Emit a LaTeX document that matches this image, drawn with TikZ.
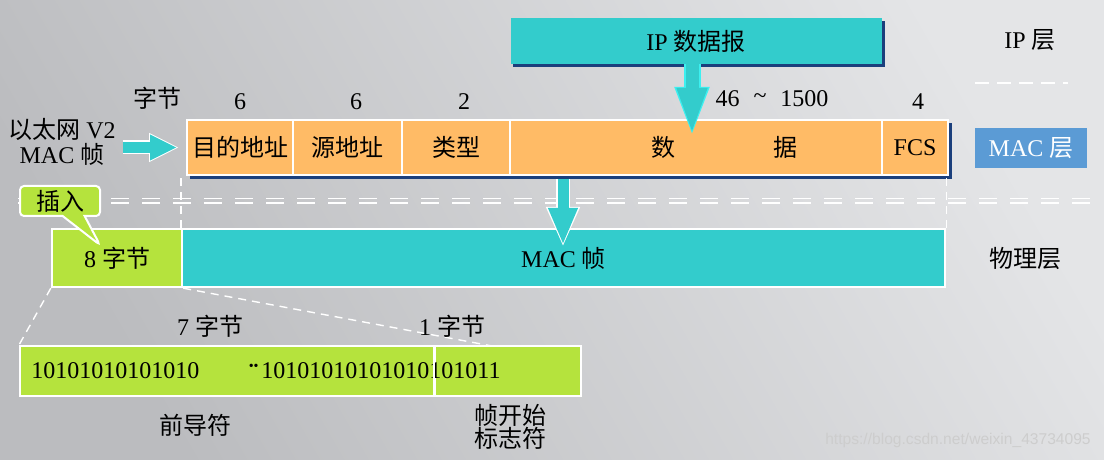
\documentclass[tikz,border=0pt]{standalone}
\usepackage{fontspec}
\setmainfont{Liberation Serif}
\newfontfamily\zhfont{Noto Sans CJK SC}
\newfontfamily\wmfont{Liberation Sans}
\newcommand{\zh}[1]{{\zhfont #1}}
\usetikzlibrary{arrows.meta,calc,shapes.callouts}
\definecolor{cyanbox}{HTML}{33CCCC}
\definecolor{cyanglow}{HTML}{3CF0F0}
\definecolor{orangebox}{HTML}{FFBB66}
\definecolor{limebox}{HTML}{B5E33D}
\definecolor{layerblue}{HTML}{5B9BD5}
\definecolor{navyshadow}{HTML}{1B3F7C}
\definecolor{bglight}{HTML}{E4E5E7}
\definecolor{bgdark}{HTML}{BBBCBF}
\definecolor{watermark}{HTML}{CDCDCD}

\begin{document}
\begin{tikzpicture}[x=0.5pt, y=-0.5pt, every node/.style={font=\fontsize{12}{14}\selectfont},
	field/.style={draw=white, line width=1pt, inner sep=0pt, minimum height=27.5pt, fill=orangebox},
	physfield/.style={draw=white, line width=1.2pt, inner sep=0pt},
	guide/.style={draw=white, line width=0.7pt, dash pattern=on 4pt off 3pt},
	layerline/.style={draw=white, line width=0.7pt, dash pattern=on 9pt off 6.5pt}]
	\useasboundingbox (0,0) rectangle (1104,460);
	\shade[top color=bglight, bottom color=bgdark, shading angle=-60] (0,0) rectangle (1104,460);

	\fill[navyshadow] (513,21) rectangle (885,67);
	\node[fill=cyanbox, inner sep=0pt, minimum width=185.5pt, minimum height=23pt] (ip) at (696,41) {IP \zh{数据报}};
	\node (iplayer) at (1030,40) {IP \zh{层}};
	\draw[draw=white, line width=0.8pt, dash pattern=on 7pt off 4pt] (975,83) -- (1068,83);

	\node (bytes) at (157,98) {\zh{字节}};
	\node (ndst) at (240,102) {6};
	\node (nsrc) at (356,102) {6};
	\node (ntype) at (464,102) {2};
	\node (ndata) at (772,99) {46\hspace{7pt}\raisebox{0.35ex}{\textasciitilde}\hspace{7pt}1500};
	\node (nfcs) at (918,102) {4};

	\fill[navyshadow] (190,123) rectangle (952,179);
	\node[field, minimum width=53pt] (dst) at (240,147.5) {\zh{目的地址}};
	\node[field, minimum width=54.5pt] (src) at (347.5,147.5) {\zh{源地址}};
	\node[field, minimum width=54pt] (type) at (456,147.5) {\zh{类型}};
	\node[field, minimum width=186pt] (data) at (696,147.5) {};
	\node[field, minimum width=33pt] (fcs) at (915,147.5) {FCS};
	\node (datatxt) at (724,147.5) {\zh{数}\hspace{49pt}\zh{据}};
	\node[fill=layerblue, text=white, inner sep=0pt, minimum width=56pt, minimum height=20pt] (maclayer) at (1031,148) {MAC \zh{层}};
	\node[align=center, font=\fontsize{12}{11}\selectfont] (ethlbl) at (62,142) {\zh{以太网} V2\\MAC \zh{帧}};

	\draw[layerline] (18,198.5) -- (1100,198.5);
	\draw[layerline] (18,203) -- (1100,203);

	\node[physfield, fill=limebox, minimum width=65pt, minimum height=29pt] (syncfield) at (117,258) {8 \zh{字节}};
	\node[physfield, fill=cyanbox, minimum width=381.5pt, minimum height=29pt] (macframe) at (563.5,258) {MAC \zh{帧}};
	\node (phylayer) at (1025,258) {\zh{物理层}};
	\draw[guide] (macframe.north west) -- (macframe.north west |- dst.south);
	\draw[guide] (macframe.north east) -- (macframe.north east |- fcs.south);

	\node[rectangle callout, fill=limebox, draw=white, line width=1pt, rounded corners=2pt, inner sep=0pt, minimum width=40pt, minimum height=15pt, callout absolute pointer={(100,245)}, callout pointer width=11pt] (insert) at (60,201) {\zh{插入}};

	\draw[white, line width=7pt, -{Triangle[length=15pt, width=13.5pt]}, shorten >=3.5pt] (ethlbl.east |- dst) -- (dst.west);
	\draw[cyanbox, line width=5.5pt, -{Triangle[length=13.5pt, width=12pt]}, shorten >=4.5pt] (ethlbl.east |- dst) -- (dst.west);
	\coordinate (iptip) at (692,137);
	\draw[cyanglow, line width=8.5pt, -{Triangle[length=25pt, width=15.5pt]}] (ip.south -| iptip) -- (iptip);
	\draw[cyanbox, line width=6.5pt, -{Triangle[length=23.5pt, width=13.5pt]}, shorten >=1pt] (ip.south -| iptip) -- (iptip);
	\coordinate (mactip) at (563,247);
	\draw[white, line width=7pt, -{Triangle[length=20pt, width=15.5pt]}] ([yshift=-1.5pt]data.south -| mactip) -- (mactip);
	\draw[cyanbox, line width=5.5pt, -{Triangle[length=18.5pt, width=13.5pt]}, shorten >=1pt] ([yshift=-1.5pt]data.south -| mactip) -- (mactip);

	\node[physfield, line width=1pt, fill=limebox, minimum width=207.5pt, minimum height=25pt] (preamble) at (227.5,371) {};
	\node[physfield, line width=1pt, fill=limebox, minimum width=73pt, minimum height=25pt] (sfd) at (508,371) {};
	\coordinate (zoomend) at (492,346);
	\draw[guide] (syncfield.south west) -- (preamble.north west);
	\draw[guide] (syncfield.south east) -- (zoomend);
	\node[anchor=west, inner sep=0pt] (bitsa) at (31,371) {10101010101010};
	\node[anchor=west, inner sep=0pt] (bitsb) at (261,371) {10101010101010101011};
	\node[anchor=east, inner sep=0pt, font=\fontsize{7}{7}\selectfont] (dots) at (259,367) {••};
	\draw[white, line width=1pt] (sfd.north west) -- (sfd.south west);

	\node (sevenbytes) at (210,326) {7 \zh{字节}};
	\node (onebyte) at (452,326) {1 \zh{字节}};
	\node (preamblelbl) at (195,425) {\zh{前导符}};
	\node[align=center, font=\fontsize{12}{11.5}\selectfont] (sfdlbl) at (510,427) {\zh{帧开始}\\\zh{标志符}};
	\node[text=watermark, font=\wmfont\fontsize{7.8}{9}\selectfont] (url) at (958,440) {https://blog.csdn.net/weixin\_43734095};
\end{tikzpicture}
\end{document}
